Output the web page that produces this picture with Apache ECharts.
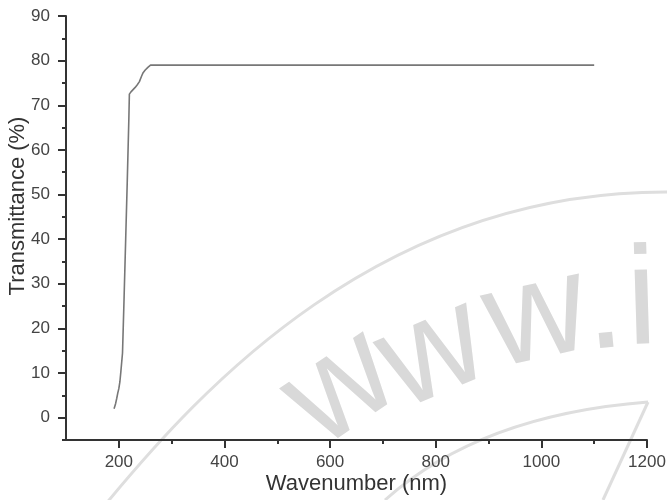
<!DOCTYPE html>
<html>
<head>
<meta charset="utf-8">
<script src="https://cdn.jsdelivr.net/npm/echarts@6/dist/echarts.min.js"></script>
<style>
html,body{margin:0;padding:0;background:#fff;}
#chart{width:667px;height:500px;}
</style>
</head>
<body>
<div id="chart"></div>
<script>
// Data
const wavelength = [191, 192, 194, 196, 198, 200, 202, 204, 207, 210, 213, 216, 219, 220, 223, 227, 231, 235, 239, 243, 246, 250, 255, 260, 1100];
const transmittance = [2.0, 2.4, 3.2, 4.3, 5.5, 6.5, 8.0, 10.5, 14.5, 27, 40, 53, 67, 72.5, 73.0, 73.5, 74.0, 74.6, 75.3, 76.5, 77.3, 77.9, 78.5, 79.0, 79.0];
const xTitle = 'Wavenumber (nm)';
const yTitle = 'Transmittance (%)';
const xMajorTicks = [200, 400, 600, 800, 1000, 1200];
const xMinorTicks = [300, 500, 700, 900, 1100];
const yMajorTicks = [0, 10, 20, 30, 40, 50, 60, 70, 80, 90];
const yMinorTicks = [-5, 5, 15, 25, 35, 45, 55, 65, 75, 85];
const watermarkChars = ['w', 'w', 'w', '.', 'i'];

const seriesData = wavelength.map((w, i) => [w, transmittance[i]]);
const FONT = '"Liberation Sans", Arial, sans-serif';

const chart = echarts.init(document.getElementById('chart'), null, {renderer: 'canvas'});

const wmPos = [[341, 389, 0.6], [433, 355, 0.4], [537, 319, 0.22], [603, 309, 0.1], [642, 305, 0.03]];
const wmColor = '#d9d9d9';
const arcColor = '#dedede';
const graphics = watermarkChars.map((c, i) => ({
  type: 'text',
  x: wmPos[i][0], y: wmPos[i][1], rotation: wmPos[i][2],
  z: -10, silent: true,
  style: {text: c, fill: wmColor, font: '140px ' + FONT, align: 'center', verticalAlign: 'middle'}
}));
graphics.push({
  type: 'bezierCurve', z: -10, silent: true,
  shape: {x1: 105, y1: 505, cpx1: 200, cpy1: 390, cpx2: 380, cpy2: 190, x2: 670, y2: 192},
  style: {stroke: arcColor, lineWidth: 3, fill: null}
});
graphics.push({
  type: 'bezierCurve', z: -10, silent: true,
  shape: {x1: 385, y1: 500, cpx1: 480, cpy1: 415, x2: 648, y2: 402},
  style: {stroke: arcColor, lineWidth: 3, fill: null}
});
graphics.push({
  type: 'line', z: -10, silent: true,
  shape: {x1: 648, y1: 402, x2: 603, y2: 500},
  style: {stroke: arcColor, lineWidth: 3}
});

const axisColor = '#333';
function makeX(main) {
  return {
    type: 'value', min: 100, max: 1200, gridIndex: 0, position: 'bottom',
    name: main ? xTitle : '', nameLocation: 'middle', nameGap: 33, nameMoveOverlap: false,
    nameTextStyle: {fontFamily: FONT, fontSize: 22, color: '#333'},
    axisLine: {show: main, onZero: false, lineStyle: {color: axisColor, width: 2}},
    axisTick: {show: true, inside: false, length: main ? 8 : 4, customValues: main ? xMajorTicks : xMinorTicks,
               lineStyle: {color: axisColor, width: 2}},
    axisLabel: {show: main, customValues: xMajorTicks, fontFamily: FONT, fontSize: 17, color: '#444', margin: 14,
                formatter: v => String(v)},
    splitLine: {show: false}
  };
}
function makeY(main) {
  return {
    type: 'value', min: -5, max: 90, gridIndex: 0, position: 'left',
    name: main ? yTitle : '', nameLocation: 'middle', nameGap: 37, nameMoveOverlap: false,
    nameTextStyle: {fontFamily: FONT, fontSize: 22, color: '#333', padding: [0, 0, 0, 44]},
    axisLine: {show: main, onZero: false, lineStyle: {color: axisColor, width: 2}},
    axisTick: {show: true, inside: false, length: main ? 8 : 4, customValues: main ? yMajorTicks : yMinorTicks,
               lineStyle: {color: axisColor, width: 2}},
    axisLabel: {show: main, customValues: yMajorTicks, fontFamily: FONT, fontSize: 17, color: '#444', margin: 16,
                formatter: v => String(v)},
    splitLine: {show: false}
  };
}

chart.setOption({
  animation: false,
  backgroundColor: '#ffffff',
  grid: {left: 66, right: 20, top: 16, bottom: 60, containLabel: false, outerBoundsMode: 'none'},
  graphic: graphics,
  xAxis: [makeX(true), makeX(false)],
  yAxis: [makeY(true), makeY(false)],
  series: [{
    type: 'line',
    xAxisIndex: 0, yAxisIndex: 0,
    data: seriesData,
    showSymbol: false,
    lineStyle: {color: '#777', width: 1.6},
    z: 5
  }]
});
</script>
</body>
</html>
